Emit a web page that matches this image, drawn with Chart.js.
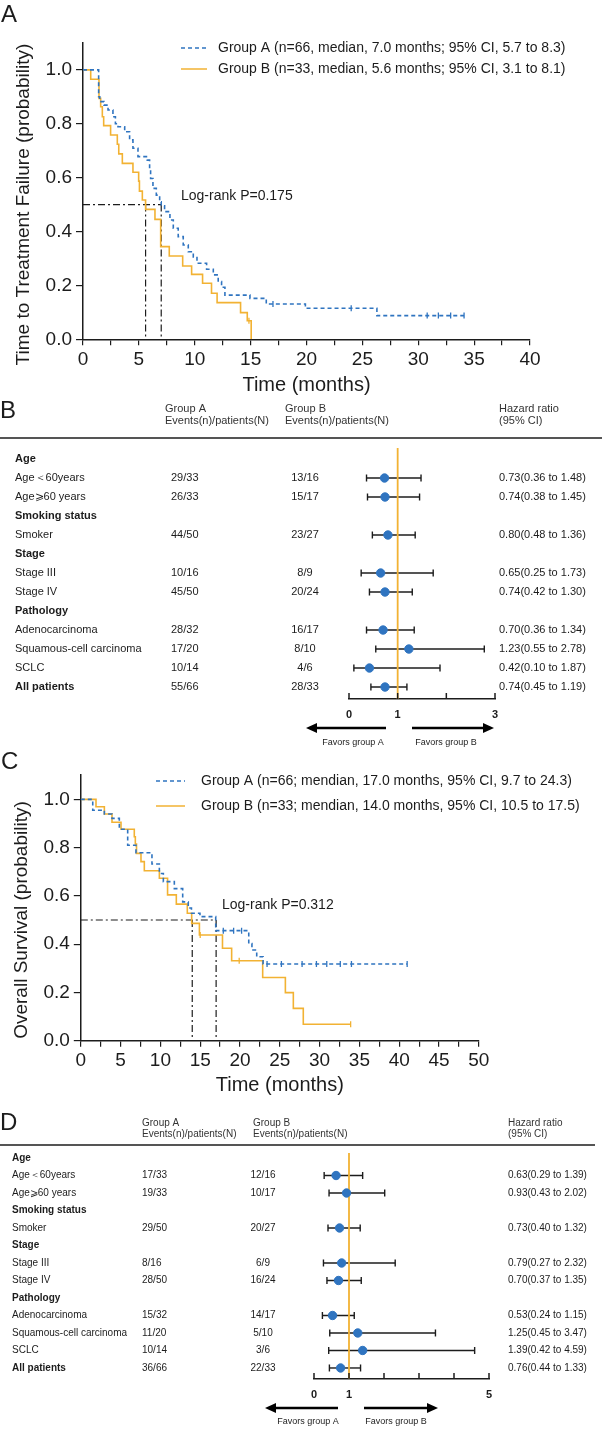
<!DOCTYPE html>
<html>
<head>
<meta charset="utf-8">
<script src="https://cdn.jsdelivr.net/npm/chart.js@4.4.1/dist/chart.umd.min.js"></script>
<style>
  body { margin: 0; background: #fff; }
  #wrap { position: relative; width: 602px; height: 1433px; }
  canvas { position: absolute; left: 0; }
</style>
</head>
<body>
<div id="wrap">
  <canvas id="kmTTF" width="602" height="400" style="top:0px"></canvas>
  <canvas id="forestTTF" width="602" height="352" style="top:398px"></canvas>
  <canvas id="kmOS" width="602" height="360" style="top:740px"></canvas>
  <canvas id="forestOS" width="602" height="328" style="top:1105px"></canvas>
</div>
<script>
const BLUE = '#2f74c0';
const ORANGE = '#f2b233';
const INK = '#1c1c1c';
const FONT = '"Liberation Sans", Arial, sans-serif';

// A: time to treatment failure, step points
const ttfTimeA = [0, 1.4, 1.5, 1.88, 2.24, 2.68, 2.9, 3.13, 3.73, 4.17, 4.47, 4.92, 5.75, 5.96, 6.05, 6.26, 6.56, 6.86, 7.0, 7.3, 7.78, 8.08, 8.52, 8.97, 9.42, 9.87, 10.2, 11.06, 11.66, 12.1, 12.4, 12.7, 14.94, 16.4, 19.9, 26.3, 34.1];
const ttfSurvA = [1, 0.9, 0.882, 0.869, 0.851, 0.826, 0.8, 0.789, 0.77, 0.74, 0.709, 0.678, 0.665, 0.628, 0.597, 0.56, 0.535, 0.51, 0.495, 0.474, 0.443, 0.412, 0.381, 0.35, 0.325, 0.306, 0.282, 0.26, 0.239, 0.214, 0.193, 0.164, 0.152, 0.131, 0.115, 0.088, 0.088];
const ttfCensorA = [17.0, 24.0, 30.8, 31.8, 32.9, 34.1];
const ttfTimeB = [0, 0.69, 1.43, 1.58, 1.73, 1.85, 2.47, 3.07, 3.2, 3.52, 4.47, 4.98, 5.05, 5.31, 5.6, 6.44, 6.95, 7.72, 8.92, 9.72, 10.7, 11.5, 12.0, 14.1, 14.7, 15.05];
const ttfSurvB = [1, 0.965, 0.894, 0.863, 0.826, 0.793, 0.758, 0.724, 0.688, 0.653, 0.62, 0.587, 0.55, 0.517, 0.482, 0.445, 0.344, 0.309, 0.272, 0.241, 0.208, 0.171, 0.136, 0.099, 0.069, 0];
const ttfCensorB = [14.85];
const ttfMedians = [7.0, 5.6];
const ttfLegend = ['Group A (n=66, median, 7.0 months; 95% CI, 5.7 to 8.3)', 'Group B (n=33, median, 5.6 months; 95% CI, 3.1 to 8.1)'];

// C: overall survival
const osTimeA = [0, 1.5, 2.96, 3.92, 4.84, 5.89, 6.93, 8.94, 9.87, 10.37, 11.75, 12.8, 13.5, 13.9, 14.97, 16.95, 21.1, 21.5, 22.1, 22.9, 41.0];
const osSurvA = [1, 0.955, 0.939, 0.921, 0.876, 0.81, 0.779, 0.732, 0.693, 0.659, 0.63, 0.575, 0.55, 0.528, 0.514, 0.456, 0.403, 0.376, 0.348, 0.318, 0.318];
const osCensorA = [17.9, 19.2, 20.2, 23.4, 25.2, 27.8, 29.6, 30.9, 32.6, 34.0, 41.0];
const osTimeB = [0, 1.91, 2.96, 3.92, 5.05, 6.72, 6.85, 7.0, 7.56, 7.98, 9.87, 10.9, 12.0, 13.38, 13.93, 14.9, 17.8, 18.95, 22.85, 25.7, 26.7, 27.95, 33.9];
const osSurvB = [1, 0.969, 0.939, 0.905, 0.876, 0.845, 0.815, 0.776, 0.742, 0.704, 0.673, 0.604, 0.566, 0.528, 0.486, 0.438, 0.383, 0.331, 0.262, 0.199, 0.134, 0.068, 0.068];
const osCensorB = [15.0, 19.9, 33.9];
const osMedians = [17.0, 14.0];
const osLegend = ['Group A (n=66; mendian, 17.0 months, 95% CI, 9.7 to 24.3)', 'Group B (n=33; mendian, 14.0 months, 95% CI, 10.5 to 17.5)'];

// B and D: subgroup hazard ratios
const subgroups = ['Age', 'Age＜60years', 'Age⩾60 years', 'Smoking status', 'Smoker', 'Stage', 'Stage III', 'Stage IV', 'Pathology', 'Adenocarcinoma', 'Squamous-cell carcinoma', 'SCLC', 'All patients'];
const boldRows = ['Age', 'Smoking status', 'Stage', 'Pathology', 'All patients'];

const ttfEventsA = ['', '29/33', '26/33', '', '44/50', '', '10/16', '45/50', '', '28/32', '17/20', '10/14', '55/66'];
const ttfEventsB = ['', '13/16', '15/17', '', '23/27', '', '8/9', '20/24', '', '16/17', '8/10', '4/6', '28/33'];
const ttfHR = [null, 0.73, 0.74, null, 0.80, null, 0.65, 0.74, null, 0.70, 1.23, 0.42, 0.74];
const ttfLow = [null, 0.36, 0.38, null, 0.48, null, 0.25, 0.42, null, 0.36, 0.55, 0.10, 0.45];
const ttfHigh = [null, 1.48, 1.45, null, 1.36, null, 1.73, 1.30, null, 1.34, 2.78, 1.87, 1.19];
const ttfTickLabels = [0, 1, 3];

const osEventsA = ['', '17/33', '19/33', '', '29/50', '', '8/16', '28/50', '', '15/32', '11/20', '10/14', '36/66'];
const osEventsB = ['', '12/16', '10/17', '', '20/27', '', '6/9', '16/24', '', '14/17', '5/10', '3/6', '22/33'];
const osHR = [null, 0.63, 0.93, null, 0.73, null, 0.79, 0.70, null, 0.53, 1.25, 1.39, 0.76];
const osLow = [null, 0.29, 0.43, null, 0.40, null, 0.27, 0.37, null, 0.24, 0.45, 0.42, 0.44];
const osHigh = [null, 1.39, 2.02, null, 1.32, null, 2.32, 1.35, null, 1.15, 3.47, 4.59, 1.33];
const osTickLabels = [0, 1, 5];

function pts(times, surv) {
  return times.map((t, i) => ({ x: t, y: surv[i] }));
}
function levelAt(times, surv, t) {
  let v = surv[0];
  for (let i = 0; i < times.length; i++) if (times[i] <= t) v = surv[i];
  return v;
}

function kmDecor(p) {
  return {
    id: 'kmDecor',
    afterDraw(chart) {
      const { ctx, scales: { y } } = chart;
      ctx.save();
      ctx.fillStyle = INK;
      ctx.textBaseline = 'middle';
      ctx.font = '24px ' + FONT;
      ctx.fillText(p.letter, 1, p.letterY);
      ctx.font = '14px ' + FONT;
      p.legend.forEach((txt, i) => {
        const ly = p.legendY + i * p.legendGap;
        ctx.beginPath();
        ctx.strokeStyle = i === 0 ? BLUE : ORANGE;
        ctx.lineWidth = 1.5;
        ctx.setLineDash(i === 0 ? [4, 3] : []);
        ctx.moveTo(p.legendX, ly);
        ctx.lineTo(p.legendX + p.sampleW, ly);
        ctx.stroke();
        ctx.setLineDash([]);
        ctx.fillText(txt, p.legendTextX, ly);
      });
      ctx.fillText(p.logRank, p.logRankX, p.logRankY);
      // y title centred on the 0..1 range
      ctx.translate(p.titleX, y.getPixelForValue(0.5));
      ctx.rotate(-Math.PI / 2);
      ctx.textAlign = 'center';
      ctx.font = '19px ' + FONT;
      ctx.fillText(p.yTitle, 0, 0);
      ctx.restore();
    }
  };
}

function makeKM(id, p) {
  const dash = { borderColor: INK, borderWidth: 1.2, borderDash: [7, 3, 2, 3], pointRadius: 0, order: 3 };
  const medianSets = [
    Object.assign({ data: [{ x: 0, y: 0.5 }, { x: Math.max(...p.medians), y: 0.5 }] }, dash),
    ...p.medians.map(m => Object.assign({ data: [{ x: m, y: 0.5 }, { x: m, y: 0 }] }, dash))
  ];
  const censor = (times, surv, marks, color) => ({
    data: marks.map(t => ({ x: t, y: levelAt(times, surv, t) })),
    showLine: false, pointStyle: 'line', pointRotation: 90, pointRadius: 3,
    pointBorderColor: color, pointBorderWidth: 1.3, order: 0
  });
  new Chart(document.getElementById(id), {
    type: 'line',
    data: {
      datasets: [
        { data: pts(p.timeA, p.survA), stepped: true, borderColor: BLUE, borderWidth: 1.6, borderDash: [4, 3], pointRadius: 0, order: 1 },
        { data: pts(p.timeB, p.survB), stepped: true, borderColor: ORANGE, borderWidth: 1.6, pointRadius: 0, order: 2 },
        censor(p.timeA, p.survA, p.censorA, BLUE),
        censor(p.timeB, p.survB, p.censorB, ORANGE),
        ...medianSets
      ]
    },
    options: {
      responsive: false,
      animation: false,
      layout: { padding: { left: 0, right: p.padRight, top: p.padTop, bottom: 0 } },
      plugins: { legend: { display: false }, tooltip: { enabled: false } },
      scales: {
        x: {
          type: 'linear', min: 0, max: p.xMax,
          ticks: { stepSize: 2.5, autoSkip: false, maxRotation: 0, color: INK, padding: 3,
                   font: { family: FONT, size: 19 }, callback: v => (v % 5 === 0 ? v : '') },
          grid: { drawOnChartArea: false, color: INK, lineWidth: 1.2, tickLength: 6 },
          border: { color: INK, width: 1.5 },
          title: { display: true, text: 'Time (months)', color: INK, font: { family: FONT, size: 20 }, padding: { top: 0, bottom: 3 } },
          afterFit: s => { s.height = p.xAxisH; }
        },
        y: {
          type: 'linear', min: 0, max: 1.1,
          ticks: { stepSize: 0.2, color: INK, padding: 4, font: { family: FONT, size: 19 }, callback: v => v.toFixed(1) },
          afterBuildTicks: s => { s.ticks = s.ticks.filter(t => t.value <= 1.0001); },
          grid: { drawOnChartArea: false, color: INK, lineWidth: 1.2, tickLength: 7 },
          border: { color: INK, width: 1.5 },
          afterFit: s => { s.width = p.yAxisW; }
        }
      }
    },
    plugins: [kmDecor(p)]
  });
}

function arrow(ctx, x0, x1, y) {
  const dir = Math.sign(x1 - x0);
  ctx.beginPath();
  ctx.lineWidth = 2.6;
  ctx.moveTo(x0, y);
  ctx.lineTo(x1 - dir * 8, y);
  ctx.stroke();
  ctx.beginPath();
  ctx.moveTo(x1, y);
  ctx.lineTo(x1 - dir * 11, y - 5);
  ctx.lineTo(x1 - dir * 11, y + 5);
  ctx.closePath();
  ctx.fill();
}

function forestDecor(p) {
  return {
    id: 'forestDecor',
    afterDraw(chart) {
      const { ctx, chartArea, scales: { x, y } } = chart;
      ctx.save();
      ctx.fillStyle = INK;
      ctx.strokeStyle = INK;
      ctx.textBaseline = 'middle';
      ctx.font = '24px ' + FONT;
      ctx.fillText(p.letter, 0, p.letterY);
      // header
      ctx.fillStyle = '#333';
      ctx.font = p.fs + 'px ' + FONT;
      ctx.fillText('Group A', p.headA, p.headY);
      ctx.fillText('Events(n)/patients(N)', p.headA, p.headY + p.headGap);
      ctx.fillText('Group B', p.headB, p.headY);
      ctx.fillText('Events(n)/patients(N)', p.headB, p.headY + p.headGap);
      ctx.fillText('Hazard ratio', p.colHR, p.headY);
      ctx.fillText('(95% CI)', p.colHR, p.headY + p.headGap);
      ctx.beginPath();
      ctx.lineWidth = 1.5;
      ctx.moveTo(0, p.lineY);
      ctx.lineTo(p.lineEnd, p.lineY);
      ctx.stroke();
      // table rows
      ctx.fillStyle = INK;
      subgroups.forEach((label, i) => {
        const ry = y.getPixelForValue(i);
        ctx.textAlign = 'left';
        ctx.font = (boldRows.includes(label) ? 'bold ' : '') + p.fs + 'px ' + FONT;
        ctx.fillText(label, p.colLabel, ry);
        ctx.font = p.fs + 'px ' + FONT;
        ctx.fillText(p.eventsA[i], p.colA, ry);
        ctx.textAlign = 'center';
        ctx.fillText(p.eventsB[i], p.colB, ry);
        ctx.textAlign = 'left';
        if (p.hr[i] != null) {
          ctx.fillText(p.hr[i].toFixed(2) + '(' + p.low[i].toFixed(2) + ' to ' + p.high[i].toFixed(2) + ')', p.colHR, ry);
        }
      });
      // upward tick marks on the ratio axis
      ctx.lineWidth = 1.5;
      x.ticks.forEach(t => {
        const px = x.getPixelForValue(t.value);
        ctx.beginPath();
        ctx.moveTo(px, chartArea.bottom);
        ctx.lineTo(px, chartArea.bottom - 6);
        ctx.stroke();
      });
      ctx.fillStyle = '#000';
      ctx.strokeStyle = '#000';
      arrow(ctx, p.arrowL[0], p.arrowL[1], p.arrowY);
      arrow(ctx, p.arrowR[0], p.arrowR[1], p.arrowY);
      ctx.fillStyle = INK;
      ctx.font = '9px ' + FONT;
      ctx.textAlign = 'center';
      ctx.fillText('Favors group A', p.favA, p.favY);
      ctx.fillText('Favors group B', p.favB, p.favY);
      ctx.restore();
    }
  };
}

function makeForest(id, p) {
  const ciSets = p.hr.map((h, i) => (h == null ? null : {
    data: [{ x: p.low[i], y: i }, { x: p.high[i], y: i }],
    borderColor: INK, borderWidth: 1.4, pointStyle: 'line', pointRotation: 90, pointRadius: 3.5,
    pointBorderColor: INK, pointBorderWidth: 1.4, order: 2
  })).filter(Boolean);
  const hrSet = {
    data: p.hr.map((h, i) => (h == null ? null : { x: h, y: i })).filter(Boolean),
    showLine: false, pointRadius: 4.2, pointBackgroundColor: BLUE, pointBorderColor: BLUE, order: 0
  };
  const refSet = {
    data: [{ x: 1, y: p.yMin }, { x: 1, y: p.yMax }],
    borderColor: ORANGE, borderWidth: 1.8, pointRadius: 0, order: 1
  };
  new Chart(document.getElementById(id), {
    type: 'line',
    data: { datasets: [hrSet, refSet, ...ciSets] },
    options: {
      responsive: false,
      animation: false,
      layout: { padding: { left: p.padLeft, right: p.padRight, top: p.padTop, bottom: 0 } },
      plugins: { legend: { display: false }, tooltip: { enabled: false } },
      scales: {
        x: {
          type: 'linear', min: 0, max: p.xMax,
          ticks: { stepSize: 1, autoSkip: false, maxRotation: 0, color: INK, padding: 3,
                   font: { family: FONT, size: 11, weight: 'bold' },
                   callback: v => (p.tickLabels.includes(v) ? v : '') },
          grid: { drawOnChartArea: false, color: 'rgba(0,0,0,0)', tickLength: 6 },
          border: { color: INK, width: 1.5 },
          afterFit: s => { s.height = p.xAxisH; }
        },
        y: { type: 'linear', display: false, reverse: true, min: p.yMin, max: p.yMax }
      }
    },
    plugins: [forestDecor(p)]
  });
}

makeKM('kmTTF', {
  timeA: ttfTimeA, survA: ttfSurvA, censorA: ttfCensorA,
  timeB: ttfTimeB, survB: ttfSurvB, censorB: ttfCensorB,
  medians: ttfMedians, legend: ttfLegend, xMax: 40,
  letter: 'A', letterY: 15, legendX: 181, sampleW: 26, legendTextX: 218, legendY: 48, legendGap: 21,
  logRank: 'Log-rank P=0.175', logRankX: 181, logRankY: 196,
  yTitle: 'Time to Treatment Failure (probability)', titleX: 24,
  padRight: 72, padTop: 42.9, xAxisH: 60.7, yAxisW: 83
});

makeKM('kmOS', {
  timeA: osTimeA, survA: osSurvA, censorA: osCensorA,
  timeB: osTimeB, survB: osSurvB, censorB: osCensorB,
  medians: osMedians, legend: osLegend, xMax: 50,
  letter: 'C', letterY: 22, legendX: 156, sampleW: 29, legendTextX: 201, legendY: 41, legendGap: 25,
  logRank: 'Log-rank P=0.312', logRankX: 222, logRankY: 165,
  yTitle: 'Overall Survival (probability)', titleX: 22,
  padRight: 123.2, padTop: 35.2, xAxisH: 59.3, yAxisW: 80.8
});

makeForest('forestTTF', {
  eventsA: ttfEventsA, eventsB: ttfEventsB, hr: ttfHR, low: ttfLow, high: ttfHigh,
  tickLabels: ttfTickLabels, xMax: 3, yMin: -0.579, yMax: 12.63,
  padLeft: 349, padRight: 107, padTop: 50, xAxisH: 51, fs: 11,
  letter: 'B', letterY: 13, headY: 11, headGap: 12, headA: 165, headB: 285,
  lineY: 40, lineEnd: 602, colLabel: 15, colA: 171, colB: 305, colHR: 499,
  arrowL: [386, 306], arrowR: [412, 494], arrowY: 330, favA: 353, favB: 446, favY: 345
});

makeForest('forestOS', {
  eventsA: osEventsA, eventsB: osEventsB, hr: osHR, low: osLow, high: osHigh,
  tickLabels: osTickLabels, xMax: 5, yMin: -0.286, yMax: 12.63,
  padLeft: 314, padRight: 113, padTop: 48, xAxisH: 54, fs: 10,
  letter: 'D', letterY: 18, headY: 18, headGap: 11, headA: 142, headB: 253,
  lineY: 40, lineEnd: 595, colLabel: 12, colA: 142, colB: 263, colHR: 508,
  arrowL: [338, 265], arrowR: [364, 438], arrowY: 303, favA: 308, favB: 396, favY: 317
});
</script>
</body>
</html>
